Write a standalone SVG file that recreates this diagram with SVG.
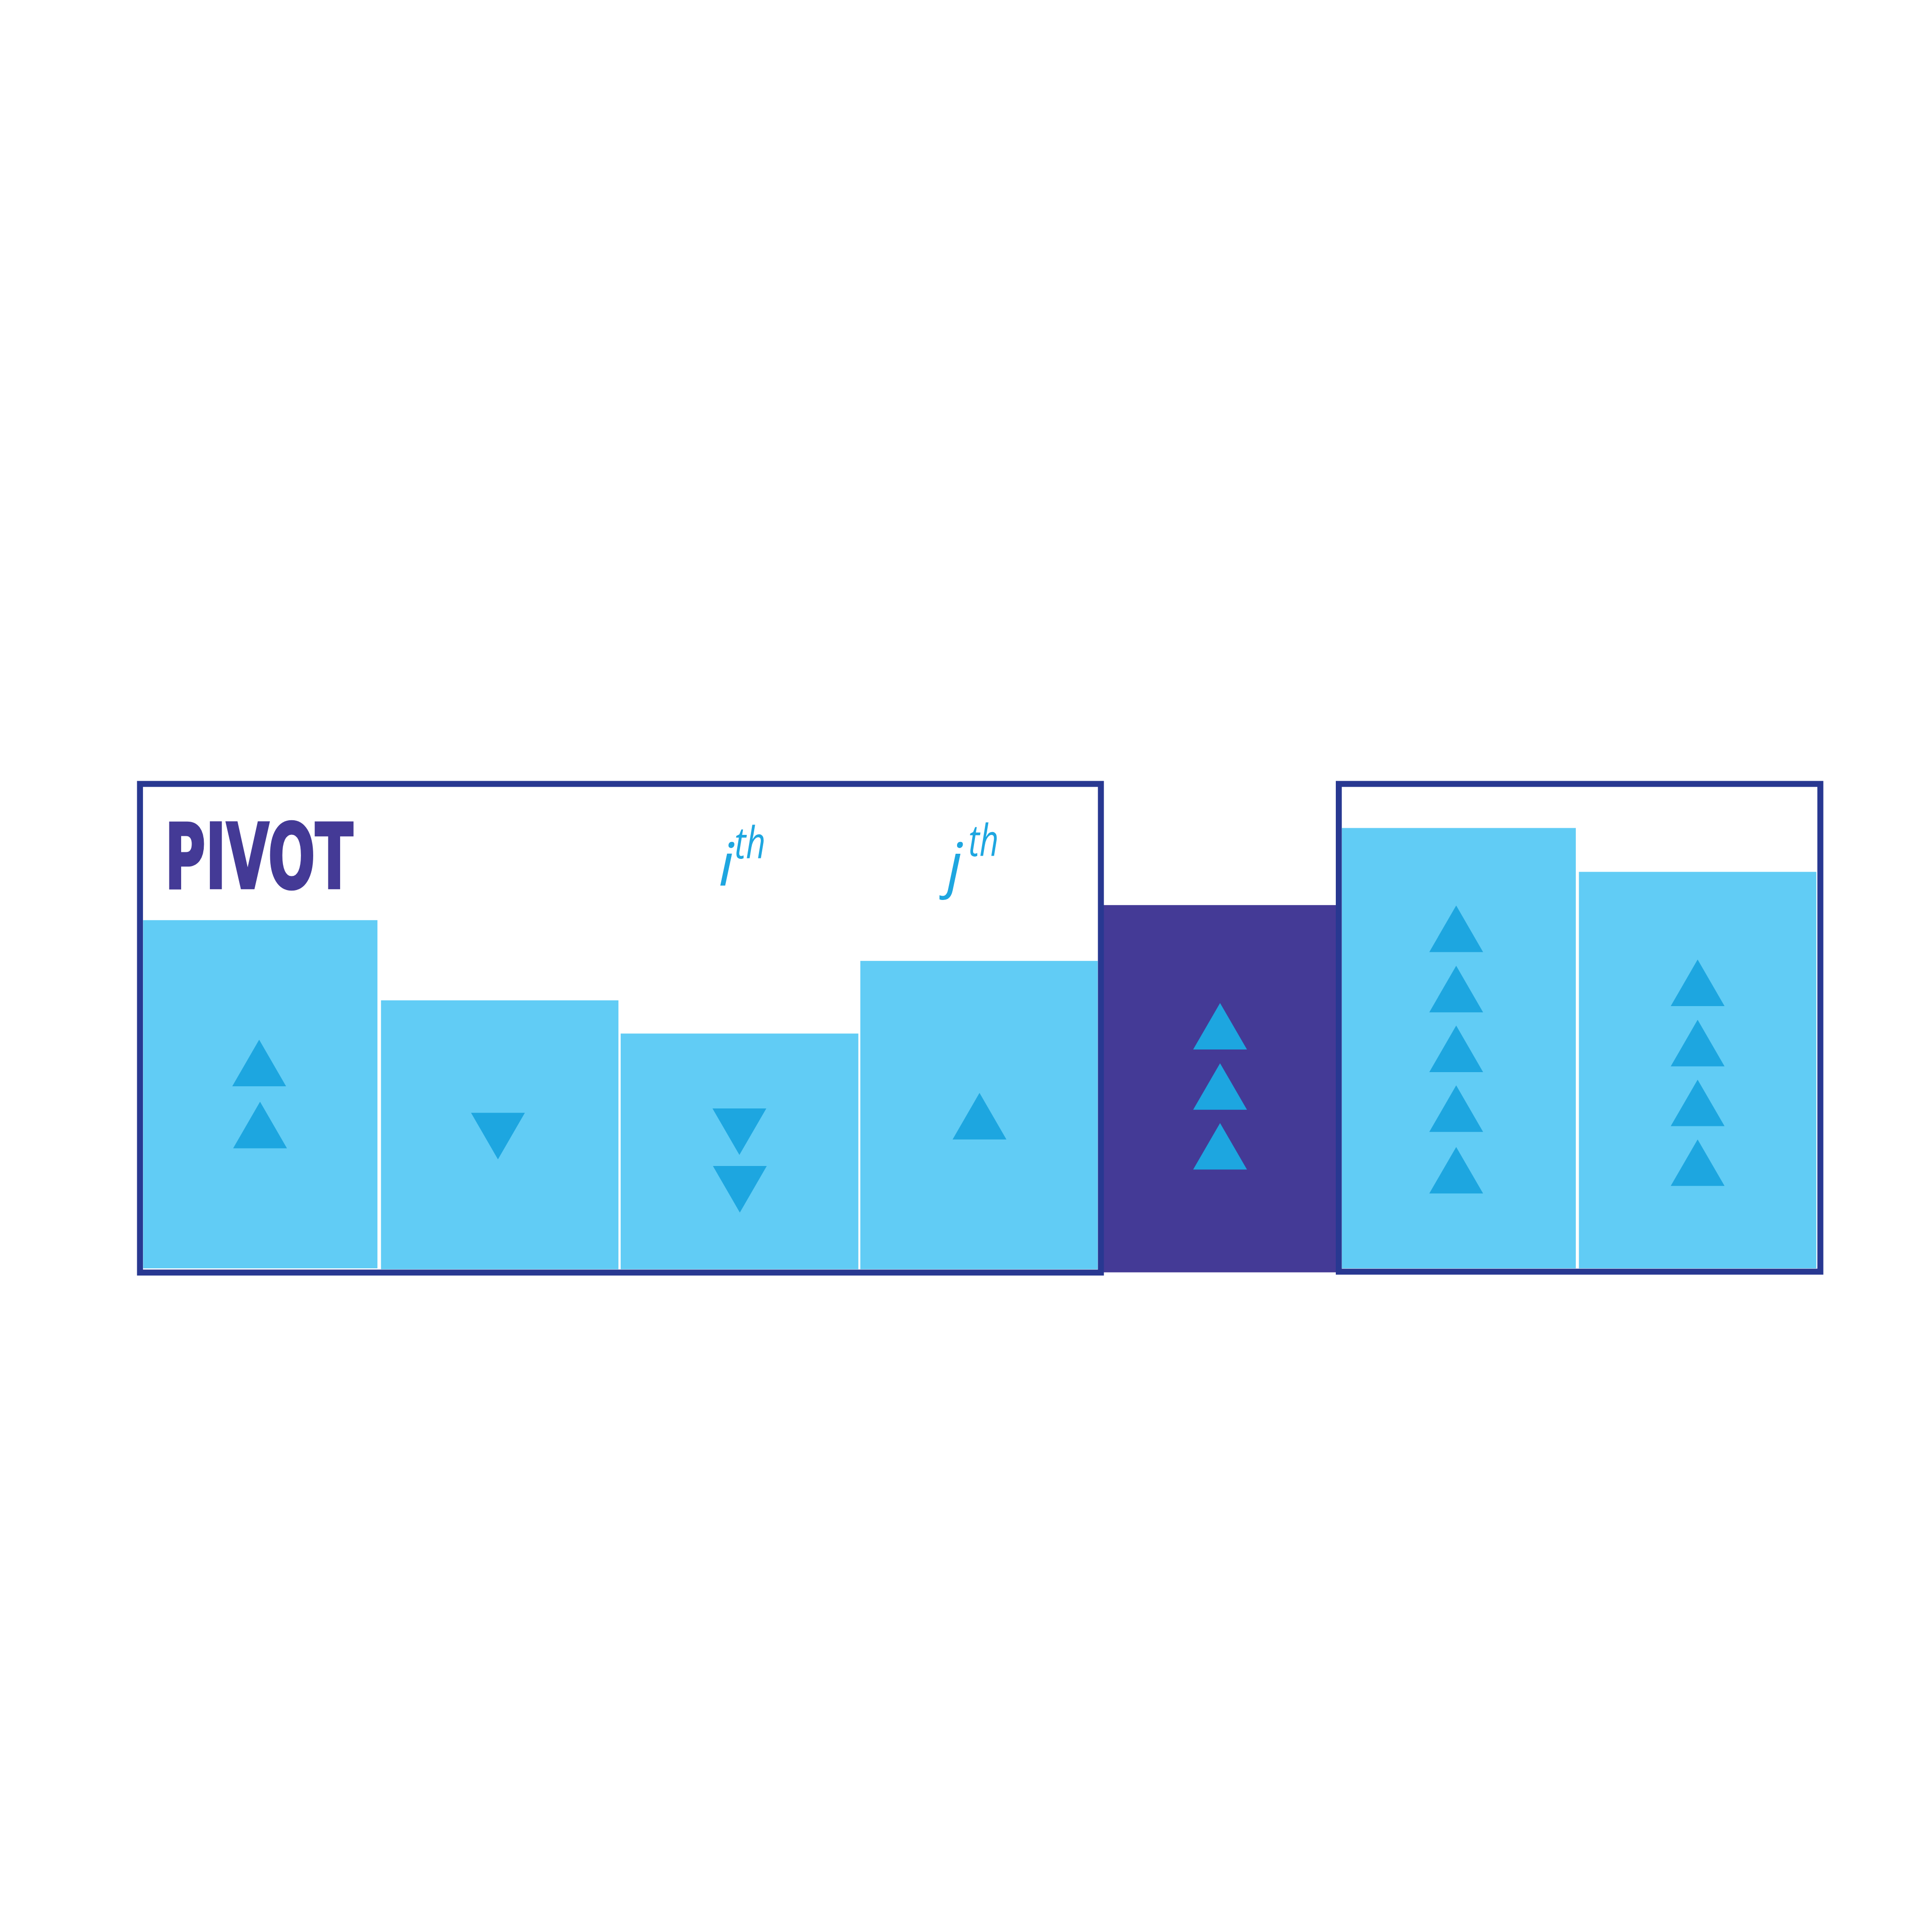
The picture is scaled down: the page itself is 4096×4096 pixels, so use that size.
<svg xmlns="http://www.w3.org/2000/svg" xmlns:xlink="http://www.w3.org/1999/xlink" width="4096" height="4096" viewBox="0 0 4096 4096">
<style>
.bar{fill:#61CCF5}
.piv{fill:#443A96}
.tri{fill:#1DA6E0}
.frame{fill:none;stroke:#283891;stroke-width:13.5}
.lbl{font-family:"Open Sans","Noto Sans",sans-serif;font-style:italic;font-weight:500;fill:#1EA6E0}
.title{font-family:"DejaVu Sans Condensed","Liberation Sans",Arial,sans-serif;font-weight:700;fill:#443A96;stroke:#443A96;stroke-width:5;stroke-linejoin:miter}
</style>
<defs>
<path id="up" d="M0,0 L60.75,105 L-60.75,105 Z"/>
<path id="dn" d="M-60.75,0 L60.75,0 L0,105 Z"/>
</defs>
<rect width="4096" height="4096" fill="#FFFFFF"/>
<g transform="scale(0.93923)">
<g id="bar1"><rect class="bar" x="323" y="2077" width="529" height="786"/><use href="#up" class="tri" x="585" y="2347"/><use href="#up" class="tri" x="587" y="2487"/></g>
<g id="bar2"><rect class="bar" x="860" y="2258" width="536" height="607"/><use href="#dn" class="tri" x="1124" y="2512"/></g>
<g id="bar3"><rect class="bar" x="1401" y="2333" width="536.5" height="532"/><use href="#dn" class="tri" x="1669" y="2502"/><use href="#dn" class="tri" x="1670" y="2632"/></g>
<g id="bar4"><rect class="bar" x="1942" y="2169" width="536" height="696"/><use href="#up" class="tri" x="2211" y="2467"/></g>
<g id="pivot-bar"><rect class="piv" x="2485" y="2043" width="537" height="829"/><use href="#up" class="tri" x="2754" y="2264"/><use href="#up" class="tri" x="2754" y="2400"/><use href="#up" class="tri" x="2754" y="2535"/></g>
<g id="bar5"><rect class="bar" x="3029" y="1869" width="528" height="994"/><use href="#up" class="tri" x="3287" y="2044"/><use href="#up" class="tri" x="3287" y="2180"/><use href="#up" class="tri" x="3287" y="2315"/><use href="#up" class="tri" x="3287" y="2450"/><use href="#up" class="tri" x="3287" y="2589"/></g>
<g id="bar6"><rect class="bar" x="3564" y="1968" width="536" height="895"/><use href="#up" class="tri" x="3832" y="2166"/><use href="#up" class="tri" x="3832" y="2302"/><use href="#up" class="tri" x="3832" y="2437"/><use href="#up" class="tri" x="3832" y="2572"/></g>
<g id="left-partition"><rect class="frame" x="316" y="1769.5" width="2169" height="1103"/></g>
<g id="right-partition"><rect class="frame" x="3022" y="1769.5" width="1087" height="1101"/></g>
<g id="labels">
<text class="title" x="372" y="2005" font-size="204" textLength="425" lengthAdjust="spacingAndGlyphs">PIVOT</text>
<text class="lbl" x="1622" y="2000" font-size="135">i</text>
<text class="lbl" x="1658" y="1938" font-size="100" textLength="70" lengthAdjust="spacingAndGlyphs">th</text>
<text class="lbl" x="2138" y="2000" font-size="135">j</text>
<text class="lbl" x="2186" y="1932" font-size="100" textLength="68" lengthAdjust="spacingAndGlyphs">th</text>
</g>
<g id="connectors"></g>
</g>
</svg>
